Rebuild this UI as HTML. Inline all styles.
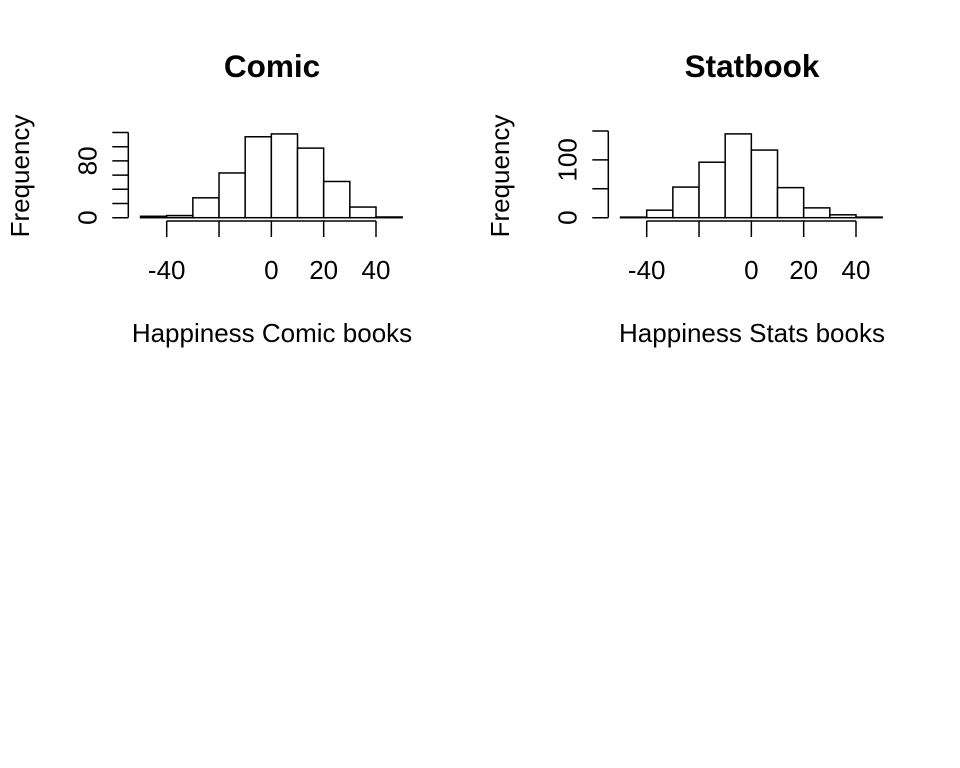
<!DOCTYPE html>
<html><head><meta charset="utf-8">
<style>
html,body{margin:0;padding:0;background:#fff;}
svg{display:block;font-family:"Liberation Sans",Arial,sans-serif;}
</style></head>
<body>
<svg id="chart" width="960" height="768" viewBox="0 0 960 768" xmlns="http://www.w3.org/2000/svg"></svg>
<script>
const binEdges = [-50,-40,-30,-20,-10,0,10,20,30,40,50];
const comicCounts = [2,3,28,63,114,118,98,51,15,1];
const statCounts = [1,13,53,96,145,117,52,17,5,1];
const xTicks = [-40,-20,0,20,40];
const xTickLabels = ["-40","","0","20","40"];
const comicYTicks = [0,20,40,60,80,100,120];
const comicYLabels = ["0","","","","80","",""];
const statYTicks = [0,50,100,150];
const statYLabels = ["0","","100",""];

const NS = "http://www.w3.org/2000/svg";
const svg = document.getElementById("chart");
function mk(tag, attrs, parent){
  const e = document.createElementNS(NS, tag);
  for (const k in attrs) e.setAttribute(k, attrs[k]);
  (parent||svg).appendChild(e);
  return e;
}

function panel(ox, key, title, xlab, counts, yTicks, yLabels, yPerUnit){
  const g = mk("g", {});
  
  
  const x = v => ox + 166.7 + (v + 40) * (209.3 / 80);
  const y0 = 217.7;
  const y = v => y0 - v * yPerUnit;

  const t = mk("text", {x: ox + 272, y: 77, "text-anchor": "middle", "font-size": 31.5, "font-weight": "bold"}, g);
  t.textContent = title;
  
  

  counts.forEach((c, i) => {
    const r = mk("rect", {x: x(binEdges[i]), y: y(c), width: x(binEdges[i+1]) - x(binEdges[i]), height: Math.max(y0 - y(c), 0.01), fill: "#fff", stroke: "#000", "stroke-width": 1.5}, g);
    
    
  });

  const xa = mk("g", {}, g);
  
  
  mk("line", {x1: x(xTicks[0]), x2: x(xTicks[xTicks.length-1]), y1: 221, y2: 221, stroke: "#000", "stroke-width": 1.5}, xa);
  xTicks.forEach((v, i) => {
    mk("line", {x1: x(v), x2: x(v), y1: 221, y2: 237, stroke: "#000", "stroke-width": 1.5}, xa);
    if (xTickLabels[i]) {
      const l = mk("text", {x: x(v), y: 279, "text-anchor": "middle", "font-size": 26}, xa);
      l.textContent = xTickLabels[i];
      
      
    }
  });

  const ya = mk("g", {}, g);
  
  
  const ax = ox + 128.3;
  mk("line", {x1: ax, x2: ax, y1: y(yTicks[0]), y2: y(yTicks[yTicks.length-1]), stroke: "#000", "stroke-width": 1.5}, ya);
  yTicks.forEach((v, i) => {
    mk("line", {x1: ax - 16, x2: ax, y1: y(v), y2: y(v), stroke: "#000", "stroke-width": 1.5}, ya);
    if (yLabels[i]) {
      const l = mk("text", {x: 0, y: 0, "text-anchor": "middle", "font-size": 26, transform: "translate(" + (ax - 32) + "," + y(v) + ") rotate(-90)"}, ya);
      l.textContent = yLabels[i];
      
      
    }
  });

  const yl = mk("text", {x: 0, y: 0, "text-anchor": "middle", "font-size": 26, transform: "translate(" + (ox + 29) + ",176) rotate(-90)"}, g);
  yl.textContent = "Frequency";
  
  

  const xl = mk("text", {x: ox + 272, y: 342, "text-anchor": "middle", "font-size": 26}, g);
  xl.textContent = xlab;
  
  
}

panel(0, "comic", "Comic", "Happiness Comic books", comicCounts, comicYTicks, comicYLabels, 14.2/20);
panel(480, "statbook", "Statbook", "Happiness Stats books", statCounts, statYTicks, statYLabels, 28.9/50);
</script>
</body></html>
